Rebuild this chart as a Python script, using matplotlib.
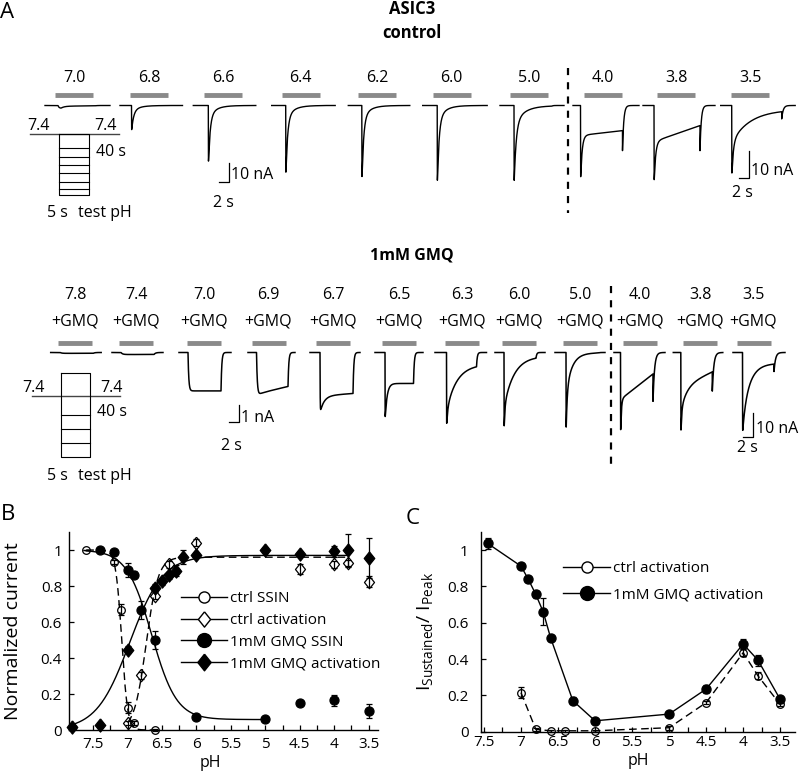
import numpy as np
import matplotlib
matplotlib.use('Agg')
import matplotlib.pyplot as plt
from matplotlib.lines import Line2D
from matplotlib.ticker import MultipleLocator, FuncFormatter

plt.rcParams['font.family'] = ['Open Sans', 'DejaVu Sans']
plt.rcParams['mathtext.fontset'] = 'custom'
plt.rcParams['mathtext.rm'] = 'Open Sans'
plt.rcParams['mathtext.it'] = 'Open Sans'
plt.rcParams['mathtext.bf'] = 'Open Sans:bold'

# ======================= DATA =======================
# ---- Panel A: control traces (current in nA, time in s) ----
ctrl_ph = ['7.0', '6.8', '6.6', '6.4', '6.2', '6.0', '5.0', '4.0', '3.8', '3.5']
ctrl_peak = [1.5, 13.7, 31.7, 38.0, 40.5, 42.6, 42.5, 27.7, 28.8, 26.2]
ctrl_sus0 = [0.4, 0.0, 0.0, 0.0, 0.0, 0.0, 0.1, 11.2, 13.5, 1.5]
ctrl_sus1 = [0.1, 0.0, 0.0, 0.0, 0.0, 0.0, 0.1, 9.4, 7.5, 1.5]
ctrl_slow = [0.0, 3.0, 6.0, 7.0, 7.0, 8.0, 10.0, 0.0, 0.0, 12.2]
ctrl_tau_fast = [0.6, 0.4, 0.35, 0.35, 0.35, 0.35, 0.4, 0.3, 0.3, 0.3]
ctrl_tau_slow = [1.5, 1.5, 1.5, 1.5, 1.5, 1.5, 2.0, 1.0, 1.0, 3.7]
ctrl_tau_rise = [0.2, 0.01, 0.01, 0.01, 0.01, 0.01, 0.01, 0.01, 0.01, 0.01]
ctrl_off_dip = [0, 0, 0, 0, 0, 0, 0, 7.5, 9.4, 2.7]
ctrl_tau_off = [0.3, 0.2, 0.2, 0.2, 0.2, 0.2, 0.2, 0.25, 0.25, 0.3]
ctrl_pre = [2.6, 2.3, 3.0, 2.8, 2.7, 2.9, 2.8, 1.5, 2.2, 2.2]
ctrl_pulse = [7.6, 7.6, 7.6, 7.6, 7.6, 7.6, 7.6, 8.4, 9.2, 10.0]
ctrl_post = [2.8, 2.6, 1.9, 2.3, 2.0, 2.4, 2.4, 3.3, 3.0, 2.7]
ctrl_group = [0, 0, 0, 0, 0, 0, 0, 1, 1, 1]

# ---- Panel A: 1 mM GMQ traces ----
gmq_ph = ['7.8', '7.4', '7.0', '6.9', '6.7', '6.5', '6.3', '6.0', '5.0', '4.0', '3.8', '3.5']
gmq_peak = [0.05, 0.12, 2.3, 2.5, 3.5, 27.5, 30.4, 31.8, 32.5, 33.6, 33.6, 33.2]
gmq_sus0 = [0.05, 0.12, 2.3, 2.45, 2.6, 12.9, 5.4, 1.5, 0.3, 19.5, 14.0, 4.5]
gmq_sus1 = [0.05, 0.12, 2.3, 2.0, 2.45, 12.9, 5.0, 1.5, 0.1, 8.9, 8.0, 4.5]
gmq_slow = [0.0, 0.0, 0.0, 0.0, 0.0, 0.0, 18.7, 21.0, 16.0, 0.0, 10.0, 22.0]
gmq_tau_fast = [0.5, 0.5, 0.5, 1.0, 0.8, 0.4, 0.2, 0.15, 0.2, 0.15, 0.15, 0.5]
gmq_tau_slow = [1.0, 1.0, 1.0, 1.0, 1.0, 1.0, 2.0, 2.0, 1.2, 1.0, 1.2, 1.5]
gmq_tau_rise = [0.3, 0.3, 0.15, 0.15, 0.03, 0.01, 0.01, 0.01, 0.01, 0.01, 0.01, 0.01]
gmq_off_dip = [0, 0, 0, 0, 0, 0, 0, 0, 0, 11.4, 8.0, 3.2]
gmq_tau_off = [0.3, 0.3, 0.15, 0.15, 0.15, 0.15, 0.15, 0.15, 0.15, 0.3, 0.3, 0.3]
gmq_pre = [1.9, 1.8, 1.8, 1.7, 2.0, 2.0, 2.3, 1.8, 2.2, 1.3, 1.5, 1.9]
gmq_pulse = [6.6, 6.6, 6.6, 6.3, 6.6, 5.7, 6.0, 6.4, 6.6, 6.5, 6.3, 6.3]
gmq_post = [1.6, 1.8, 2.0, 1.4, 1.4, 1.9, 2.0, 1.8, 1.2, 2.4, 2.1, 2.2]
gmq_group = [0, 0, 0, 0, 0, 1, 1, 1, 1, 1, 1, 1]

# ---- Panel B: normalized current ----
ctrl_ssin_ph = [7.6, 7.2, 7.1, 7.0, 6.9, 6.6]
ctrl_ssin_val = [1.0, 0.935, 0.668, 0.125, 0.04, 0.0]
ctrl_ssin_err = [0.0, 0.01, 0.03, 0.03, 0.01, 0.005]

ctrl_act_ph = [7.0, 6.8, 6.6, 6.4, 6.0, 4.5, 4.0, 3.8, 3.5]
ctrl_act_val = [0.04, 0.305, 0.747, 0.92, 1.04, 0.895, 0.92, 0.926, 0.825]
ctrl_act_err = [0.01, 0.02, 0.02, 0.02, 0.02, 0.03, 0.02, 0.02, 0.03]

gmq_ssin_ph = [7.4, 7.2, 7.0, 6.9, 6.8, 6.6, 6.0, 5.0, 4.5, 4.0, 3.5]
gmq_ssin_val = [1.0, 0.99, 0.89, 0.863, 0.664, 0.498, 0.07, 0.059, 0.148, 0.166, 0.107]
gmq_ssin_err = [0.0, 0.01, 0.04, 0.02, 0.05, 0.05, 0.01, 0.01, 0.01, 0.03, 0.04]

gmq_act_ph = [7.8, 7.4, 7.0, 6.6, 6.5, 6.4, 6.3, 6.2, 6.0, 5.0, 4.5, 4.0, 3.8, 3.5]
gmq_act_val = [0.018, 0.028, 0.446, 0.79, 0.827, 0.86, 0.885, 0.96, 0.97, 1.0, 0.978, 0.993, 1.0, 0.956]
gmq_act_err = [0.01, 0.01, 0.02, 0.02, 0.02, 0.02, 0.03, 0.04, 0.01, 0.01, 0.01, 0.03, 0.09, 0.11]

# Hill fit parameters: (pH50, n, bottom, top, pH range)
fit_ctrl_ssin = (7.085, 10.0, 0.0, 1.0, (7.6, 6.6))
fit_ctrl_act = (6.73, 5.0, 0.0, 0.96, (7.0, 3.8))
fit_gmq_ssin = (6.65, 2.4, 0.058, 1.0, (7.6, 5.0))
fit_gmq_act = (6.97, 1.8, 0.0, 0.97, (7.85, 3.8))

# ---- Panel C: I_sustained / I_peak ----
c_gmq_ph = [7.45, 7.0, 6.9, 6.8, 6.7, 6.6, 6.3, 6.0, 5.0, 4.5, 4.0, 3.8, 3.5]
c_gmq_val = [1.037, 0.912, 0.839, 0.756, 0.66, 0.517, 0.171, 0.06, 0.097, 0.235, 0.483, 0.394, 0.178]
c_gmq_err = [0.03, 0.01, 0.01, 0.02, 0.075, 0.01, 0.02, 0.01, 0.01, 0.02, 0.03, 0.03, 0.02]
c_ctrl_ph = [7.0, 6.8, 6.6, 6.4, 6.0, 5.0, 4.5, 4.0, 3.8, 3.5]
c_ctrl_val = [0.215, 0.013, 0.005, 0.005, 0.005, 0.022, 0.16, 0.435, 0.308, 0.15]
c_ctrl_err = [0.03, 0.01, 0.005, 0.005, 0.005, 0.01, 0.01, 0.02, 0.02, 0.01]

# ======================= LAYOUT (pixels) =======================
W, H = 800, 776
PX_PER_S = 5.0
ctrl_px_per_nA = [1.83, 2.67]
gmq_px_per_nA = [16.7, 2.4]
ctrl_label_x = [74, 149, 223, 300.5, 377, 451.5, 529, 602.5, 676, 750]
ctrl_trace_x0 = [45, 120, 193.3, 271.7, 348.3, 422.7, 500, 573, 643, 720.7]
gmq_label_x = [75, 136, 204, 268.5, 333, 399, 462, 519, 580, 640, 700, 753.5]
gmq_trace_x0 = [50.7, 112, 179, 248, 310, 375, 435, 495, 555, 614, 673.3, 733]
CTRL_BASE, GMQ_BASE = 105.5, 352.5

fig = plt.figure(figsize=(W / 100, H / 100), dpi=100)
axA = fig.add_axes([0, 0, 1, 1])
axA.set_xlim(0, W)
axA.set_ylim(H, 0)
axA.axis('off')

TXT = 11.5
GRAY = '#8a8a8a'


def trace_current(t, pre, T, peak, s0, s1, As, tf, ts, tr, dip, toff):
    x = t - pre
    I = np.zeros_like(t)
    Af = peak - s0 - As
    delay = 3 * tr

    def f(u):
        return s0 + (s1 - s0) * u / T + As * np.exp(-u / ts) + Af * np.exp(-u / tf)

    def during(u):
        return (1 - np.exp(-u / tr)) * f(np.maximum(u - delay, 0))

    on = (x >= 0) & (x < T)
    I[on] = during(x[on])
    off = x >= T
    I[off] = (during(np.array([T]))[0] + dip) * np.exp(-(x[off] - T) / toff)
    return I


def draw_row(x0s, base, scales, groups, pre, pulse, post, peak, s0, s1, As, tf, ts, tr, dip, toff, lw):
    for i in range(len(x0s)):
        t = np.arange(0, pre[i] + pulse[i] + post[i], 0.004)
        I = trace_current(t, pre[i], pulse[i], peak[i], s0[i], s1[i], As[i],
                          tf[i], ts[i], tr[i], dip[i], toff[i])
        axA.plot(x0s[i] + t * PX_PER_S, base + I * scales[groups[i]],
                 color='k', lw=lw, solid_joinstyle='round')


# headers
axA.text(7, 13, 'A', fontsize=16, ha='center', va='center')
axA.text(412, 9, 'ASIC3', fontsize=12, fontweight='bold', ha='center', va='center')
axA.text(412, 33, 'control', fontsize=12, fontweight='bold', ha='center', va='center')
axA.text(412, 255, '1mM GMQ', fontsize=11.5, fontweight='bold', ha='center', va='center')

# control row labels and bars
for x, lab in zip(ctrl_label_x, ctrl_ph):
    axA.text(x, 78, lab, fontsize=TXT, ha='center', va='center')
    axA.plot([x - 19, x + 19], [95, 95], color=GRAY, lw=3.5, solid_capstyle='butt')
draw_row(ctrl_trace_x0, CTRL_BASE, ctrl_px_per_nA, ctrl_group, ctrl_pre, ctrl_pulse, ctrl_post,
         ctrl_peak, ctrl_sus0, ctrl_sus1, ctrl_slow, ctrl_tau_fast, ctrl_tau_slow,
         ctrl_tau_rise, ctrl_off_dip, ctrl_tau_off, 1.0)

# GMQ row labels and bars
for x, lab in zip(gmq_label_x, gmq_ph):
    axA.text(x, 295, lab, fontsize=TXT, ha='center', va='center')
    axA.text(x, 321.5, '+GMQ', fontsize=TXT, ha='center', va='center')
    axA.plot([x - 17, x + 17], [343, 343], color=GRAY, lw=3.5, solid_capstyle='butt')
draw_row(gmq_trace_x0, GMQ_BASE, gmq_px_per_nA, gmq_group, gmq_pre, gmq_pulse, gmq_post,
         gmq_peak, gmq_sus0, gmq_sus1, gmq_slow, gmq_tau_fast, gmq_tau_slow,
         gmq_tau_rise, gmq_off_dip, gmq_tau_off, 1.1)

# dashed separators
axA.plot([568, 568], [68, 213], color='k', lw=1.6, linestyle=(0, (3.2, 3.2)))
axA.plot([611, 611], [286, 465], color='k', lw=1.6, linestyle=(0, (3.2, 3.2)))


def scale_bar(x, y, amp, pxs, tsec, label, tx, ty, sx, sy):
    h = amp * pxs
    w = tsec * PX_PER_S
    axA.plot([x - w, x, x], [y, y, y - h], color='k', lw=0.9)
    axA.text(tx, ty, label, fontsize=TXT, ha='left', va='center')
    axA.text(sx, sy, '2 s', fontsize=TXT, ha='center', va='center')


scale_bar(229, 181.7, 10, ctrl_px_per_nA[0], 2, '10 nA', 231, 175, 223, 203)
scale_bar(749, 177.7, 10, ctrl_px_per_nA[1], 2, '10 nA', 751, 171, 742, 193)
scale_bar(239, 421.7, 1, gmq_px_per_nA[0], 2, '1 nA', 241, 418, 231.5, 446)
scale_bar(753.3, 437.3, 10, gmq_px_per_nA[1], 2, '10 nA', 756, 429, 747, 448)

# protocol schematics
def protocol(line_y, lx0, lx1, bx0, bx1, by0, by1, rows, lab_y, l7x, r7x, s40y, s5y):
    axA.plot([lx0, lx1], [line_y, line_y], color='#444444', lw=1.0)
    axA.plot([bx0, bx1, bx1, bx0, bx0], [by0, by0, by1, by1, by0], color='k', lw=0.8)
    for r in rows:
        axA.plot([bx0, bx1], [r, r], color='k', lw=0.8)
    axA.text(l7x, lab_y, '7.4', fontsize=TXT, ha='center', va='center')
    axA.text(r7x, lab_y, '7.4', fontsize=TXT, ha='center', va='center')
    axA.text(bx1 + 7, s40y, '40 s', fontsize=TXT, ha='left', va='center')
    axA.text(47, s5y, '5 s', fontsize=TXT, ha='left', va='center')
    axA.text(78, s5y, 'test pH', fontsize=TXT, ha='left', va='center')


protocol(134.3, 30, 119, 59.3, 89, 134.3, 195,
         [148.3, 156.7, 165, 173.3, 181.7, 189], 126, 38, 105.5, 152, 213)
protocol(396, 31.7, 120, 60.7, 90.3, 373.3, 456.7,
         [415, 429, 443], 387.5, 33, 111, 411.7, 476.5)

# ======================= Panel B =======================
DIAMOND = [(0, 1), (0.8, 0), (0, -1), (-0.8, 0), (0, 1)]
axB = fig.add_axes([69 / W, (H - 730) / H, 309 / W, 198 / H])
axB.patch.set_alpha(0)
DASH = (0, (5.5, 3.2))


def hill_down(ph, p50, n, bot, top):
    return bot + (top - bot) / (1 + 10 ** (n * (p50 - ph)))


def hill_up(ph, p50, n, bot, top):
    return bot + (top - bot) / (1 + 10 ** (n * (ph - p50)))


for params, fn, ls in [(fit_ctrl_ssin, hill_down, DASH), (fit_ctrl_act, hill_up, DASH),
                       (fit_gmq_ssin, hill_down, '-'), (fit_gmq_act, hill_up, '-')]:
    p50, n, bot, top, (a, b) = params
    xx = np.linspace(a, b, 400)
    axB.plot(xx, fn(xx, p50, n, bot, top), color='k', lw=1.0, linestyle=ls, zorder=2)

series_B = [
    (ctrl_ssin_ph, ctrl_ssin_val, ctrl_ssin_err, 'o', 'none', 5.5),
    (ctrl_act_ph, ctrl_act_val, ctrl_act_err, DIAMOND, 'none', 9.0),
    (gmq_ssin_ph, gmq_ssin_val, gmq_ssin_err, 'o', 'k', 6.5),
    (gmq_act_ph, gmq_act_val, gmq_act_err, DIAMOND, 'k', 9.5),
]
for xs, ys, es, mk, fc, ms in series_B:
    axB.errorbar(xs, ys, yerr=es, fmt='none', ecolor='k', elinewidth=0.9,
                 capsize=2, capthick=0.9, zorder=3, clip_on=False)
    axB.plot(xs, ys, linestyle='none', marker=mk, mfc=fc, mec='k', mew=0.9, ms=ms,
             zorder=4, clip_on=False)

axB.set_xlim(7.85, 3.365)
axB.set_ylim(0, 1.1)


def style_axes(ax, xpad, ypad):
    for s in ['top', 'right']:
        ax.spines[s].set_visible(False)
    for s in ['left', 'bottom']:
        ax.spines[s].set_linewidth(1.0)
    ax.xaxis.set_major_locator(MultipleLocator(0.5))
    ax.xaxis.set_minor_locator(MultipleLocator(0.25))
    ax.yaxis.set_major_locator(MultipleLocator(0.2))
    fmt = FuncFormatter(lambda v, p: f'{v:g}')
    ax.xaxis.set_major_formatter(fmt)
    ax.yaxis.set_major_formatter(fmt)
    ax.tick_params(which='both', direction='in', length=3.5, width=0.9, labelsize=11)
    ax.tick_params(axis='x', pad=xpad)
    ax.tick_params(axis='y', pad=ypad)


style_axes(axB, 5, 5)
axB.set_xlabel('pH', fontsize=11.5)
axB.set_ylabel('Normalized current', fontsize=14)
axB.xaxis.set_label_coords((210 - 69) / 309, -0.125)
axB.yaxis.set_label_coords(-0.152, 0.5)

handlesB = [
    Line2D([], [], color='k', lw=1.0, marker='o', mfc='white', mec='k', ms=8),
    Line2D([], [], color='k', lw=1.0, marker=DIAMOND, mfc='white', mec='k', ms=11),
    Line2D([], [], color='k', lw=1.0, marker='o', mfc='k', mec='k', ms=10),
    Line2D([], [], color='k', lw=1.0, marker=DIAMOND, mfc='k', mec='k', ms=12),
]
labelsB = ['ctrl SSIN', 'ctrl activation', '1mM GMQ SSIN', '1mM GMQ activation']
axB.legend(handlesB, labelsB, loc='upper left', bbox_to_anchor=((181 - 69) / 309, (730 - 591) / 198),
           frameon=False, fontsize=11, borderpad=0, borderaxespad=0, handlelength=3.0,
           handletextpad=0.2, labelspacing=0.45)

fig.text(8 / W, 1 - 515 / H, 'B', fontsize=16, ha='center', va='center')
fig.text(413 / W, 1 - 518 / H, 'C', fontsize=16, ha='center', va='center')

# ======================= Panel C =======================
axC = fig.add_axes([481 / W, (H - 731.7) / H, 314 / W, 199.7 / H])
axC.patch.set_alpha(0)
axC.plot(c_ctrl_ph, c_ctrl_val, color='k', lw=1.0, linestyle=DASH, zorder=2)
axC.plot(c_gmq_ph, c_gmq_val, color='k', lw=1.0, zorder=2)
axC.errorbar(c_ctrl_ph, c_ctrl_val, yerr=c_ctrl_err, fmt='none', ecolor='k', elinewidth=0.9,
             capsize=2, capthick=0.9, zorder=3, clip_on=False)
axC.errorbar(c_gmq_ph, c_gmq_val, yerr=c_gmq_err, fmt='none', ecolor='k', elinewidth=0.9,
             capsize=2, capthick=0.9, zorder=3, clip_on=False)
axC.plot(c_ctrl_ph, c_ctrl_val, linestyle='none', marker='o', mfc='none', mec='k', mew=0.9,
         ms=5.5, zorder=4, clip_on=False)
axC.plot(c_gmq_ph, c_gmq_val, linestyle='none', marker='o', mfc='k', mec='k', ms=6.5,
         zorder=4, clip_on=False)
axC.set_xlim(7.54, 3.3)
axC.set_ylim(0, 1.1)
style_axes(axC, 2.5, 9)
axC.set_xlabel('pH', fontsize=11.5)
axC.set_ylabel(r'I$_{\mathrm{Sustained}}$/ I$_{\mathrm{Peak}}$', fontsize=14)
axC.xaxis.set_label_coords(0.5, -0.105)
axC.yaxis.set_label_coords(-0.145, 0.5)

handlesC = [
    Line2D([], [], color='k', lw=1.0, marker='o', mfc='white', mec='k', ms=8),
    Line2D([], [], color='k', lw=1.0, marker='o', mfc='k', mec='k', ms=10),
]
axC.legend(handlesC, ['ctrl activation', '1mM GMQ activation'], loc='upper left',
           bbox_to_anchor=((563 - 481) / 314, (731.7 - 561) / 199.7), frameon=False, fontsize=11,
           borderpad=0, borderaxespad=0, handlelength=3.1, handletextpad=0.2, labelspacing=0.75)

fig.savefig('out.png', dpi=100)
